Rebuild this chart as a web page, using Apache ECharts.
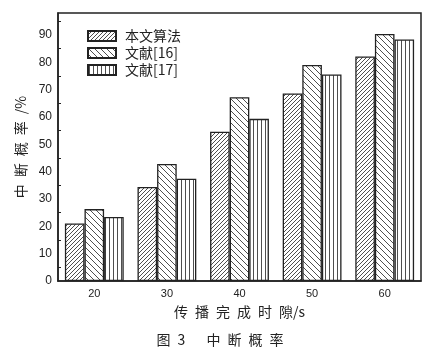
<!DOCTYPE html>
<html>
<head>
<meta charset="utf-8">
<script src="https://cdn.jsdelivr.net/npm/echarts@6/dist/echarts.min.js"></script>
<style>html,body{margin:0;padding:0;background:#fff}#c{width:440px;height:358px}</style>
</head>
<body>
<div id="c"></div>
<script>
var categories = ['20', '30', '40', '50', '60'];
var seriesNames = ['本文算法', '文献[16]', '文献[17]'];
var valuesOurs = [21.0, 34.4, 54.6, 68.6, 82.1];
var values16 = [26.3, 42.8, 67.2, 79.0, 90.3];
var values17 = [23.4, 37.4, 59.3, 75.5, 88.3];

function makePattern(kind) {
  var s = kind === 'fwd' ? 4 : (kind === 'back' ? 6 : 3.5);
  var size = kind === 'vert' ? 4 : s;
  var c = document.createElement('canvas');
  c.width = size; c.height = size;
  var g = c.getContext('2d');
  g.fillStyle = '#fff'; g.fillRect(0, 0, size, size);
  g.strokeStyle = '#222'; g.lineWidth = 0.8;
  g.beginPath();
  if (kind === 'fwd') {
    g.moveTo(0, size); g.lineTo(size, 0);
    g.moveTo(-1, 1); g.lineTo(1, -1);
    g.moveTo(size - 1, size + 1); g.lineTo(size + 1, size - 1);
  } else if (kind === 'back') {
    g.moveTo(0, 0); g.lineTo(size, size);
    g.moveTo(size - 1, -1); g.lineTo(size + 1, 1);
    g.moveTo(-1, size - 1); g.lineTo(1, size + 1);
  } else {
    g.moveTo(1.5, 0); g.lineTo(1.5, size);
  }
  g.stroke();
  return { image: c, repeat: 'repeat' };
}

function spaced(str) {
  return str.split('').join('\u2002');
}

var patterns = [makePattern('fwd'), makePattern('back'), makePattern('vert')];
var allValues = [valuesOurs, values16, values17];

var chart = echarts.init(document.getElementById('c'), null, { renderer: 'canvas' });
var numFont = 'Liberation Sans, Arial, sans-serif';
var cjkFont = '"Noto Sans CJK SC", sans-serif';

chart.setOption({
  animation: false,
  backgroundColor: '#fff',
  title: {
    text: '图\u20023\u2003\u2002' + spaced('中断概率'),
    left: 'center',
    top: 333,
    padding: 0,
    textStyle: { fontFamily: cjkFont, fontSize: 14, fontWeight: 'normal', color: '#222' }
  },
  legend: {
    left: 87, top: 29,
    padding: 0,
    orient: 'vertical',
    itemWidth: 28, itemHeight: 10,
    itemGap: 3,
    data: seriesNames,
    textStyle: { fontFamily: cjkFont, fontSize: 14, color: '#222', padding: [0, 0, 0, 4] },
    icon: 'rect'
  },
  grid: {
    left: 58, right: 19, top: 13, bottom: 77,
    show: true, borderColor: '#222', borderWidth: 1.5, backgroundColor: 'transparent'
  },
  xAxis: [{
    type: 'category',
    data: categories,
    name: spaced('传播完成时隙') + '/s',
    nameLocation: 'middle',
    nameGap: 24,
    nameTextStyle: { fontFamily: cjkFont, fontSize: 14, color: '#222' },
    axisLine: { lineStyle: { color: '#222', width: 1.5 } },
    axisTick: { inside: true, length: 4, lineStyle: { color: '#222' } },
    axisLabel: { fontFamily: numFont, fontSize: 11, color: '#222', margin: 7 }
  }, {
    type: 'category',
    data: categories,
    position: 'bottom',
    axisLine: { show: false },
    axisTick: { inside: true, length: 4, alignWithLabel: true, lineStyle: { color: '#222' } },
    axisLabel: { show: false }
  }],
  yAxis: {
    type: 'value',
    min: 0, max: 98, interval: 10,
    name: spaced('中断概率') + '\u2002/%',
    nameLocation: 'middle',
    nameGap: 30,
    nameTextStyle: { fontFamily: cjkFont, fontSize: 14, color: '#222' },
    axisLine: { show: true, lineStyle: { color: '#222', width: 1.5 } },
    axisTick: { inside: true, length: 5, lineStyle: { color: '#222' } },
    minorTick: { show: true, splitNumber: 2, length: 3, lineStyle: { color: '#222' } },
    splitLine: { show: false },
    axisLabel: {
      fontFamily: numFont, fontSize: 12, color: '#222', margin: 6,
      formatter: function (v) { return v % 10 === 0 ? String(v) : ''; }
    }
  },
  series: seriesNames.map(function (n, i) {
    return {
      name: n,
      type: 'bar',
      data: allValues[i],
      barGap: '0%',
      barCategoryGap: '19%',
      itemStyle: { color: patterns[i], borderColor: '#222', borderWidth: 1.3 }
    };
  })
});
</script>
</body>
</html>
